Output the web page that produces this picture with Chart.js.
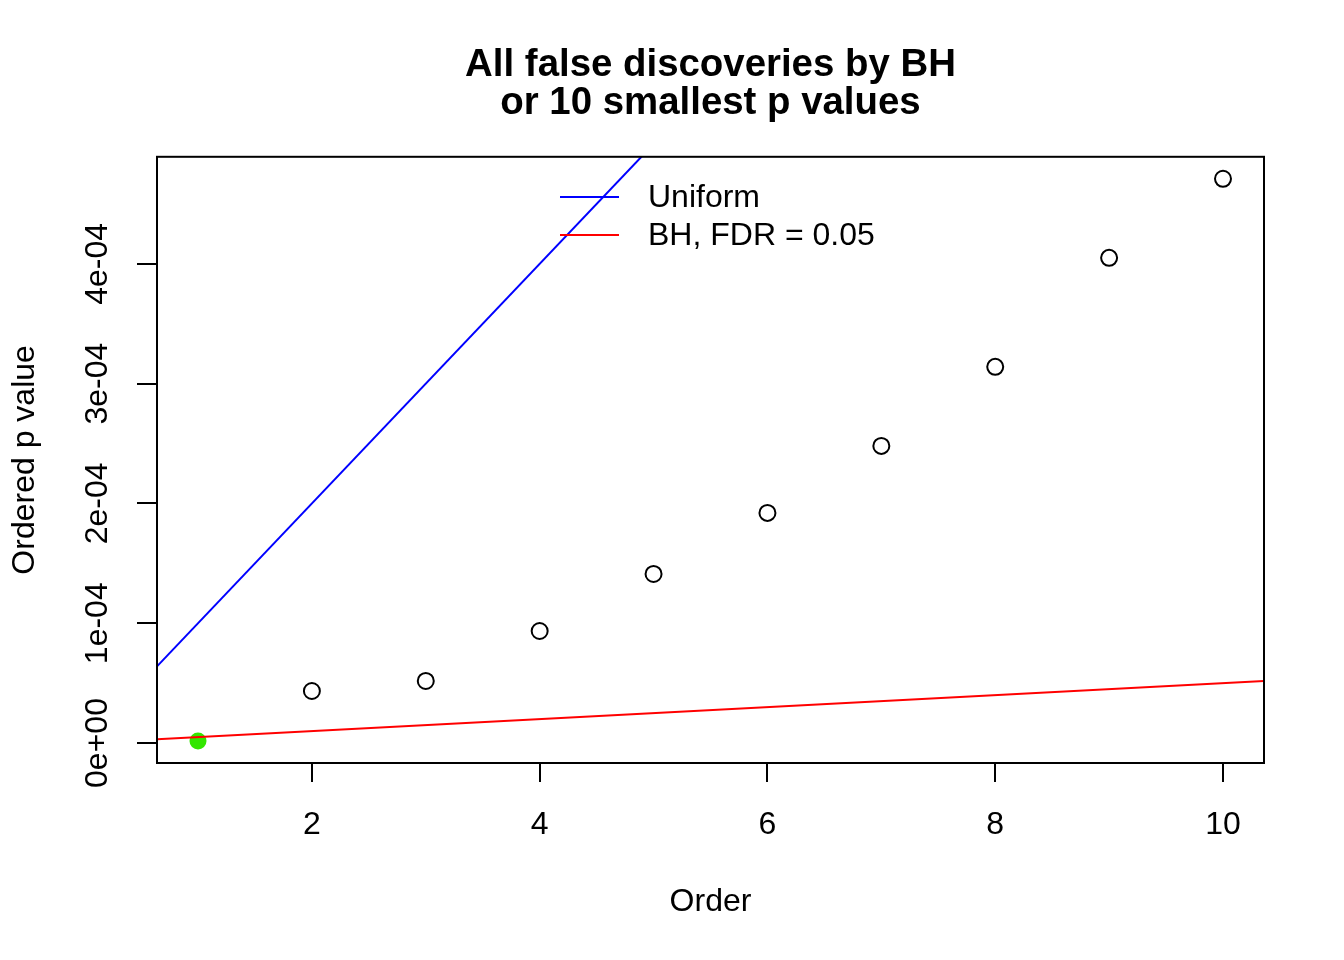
<!DOCTYPE html>
<html>
<head>
<meta charset="utf-8">
<script src="https://cdn.jsdelivr.net/npm/chart.js@4"></script>
<style>
  html, body { margin: 0; padding: 0; background: #fff; }
  canvas { display: block; }
</style>
</head>
<body>
<canvas id="chart" width="1344" height="960"></canvas>
<script>
// Ordered p values (10 smallest)
const orderVals = [1, 2, 3, 4, 5, 6, 7, 8, 9, 10];
const pValues = [1.7e-6, 4.34e-5, 5.18e-5, 9.35e-5, 1.411e-4, 1.921e-4, 2.48e-4, 3.14e-4, 4.05e-4, 4.71e-4];
const isDiscovery = [true, false, false, false, false, false, false, false, false, false];

// Reference lines: uniform i/m and BH i*q/m
const nTests = 10000;
const fdr = 0.05;

const xRange = [0.64, 10.36];
const yRange = [-1.67e-5, 4.8935e-4];
const xTicks = [2, 4, 6, 8, 10];
const yTicks = [0, 1e-4, 2e-4, 3e-4, 4e-4];
const yTickLabels = ['0e+00', '1e-04', '2e-04', '3e-04', '4e-04'];

Chart.defaults.font.family = '"Liberation Sans", Arial, sans-serif';
Chart.defaults.color = '#000';

const openPts = [];
const greenPts = [];
orderVals.forEach((x, i) => {
    if (isDiscovery[i]) greenPts.push({ x: x, y: pValues[i] });
    else openPts.push({ x: x, y: pValues[i] });
});

const uniformLine = xRange.map(x => ({ x: x, y: x / nTests }));
const bhLine = xRange.map(x => ({ x: x, y: x * fdr / nTests }));

// box round the plot area
const boxPlugin = {
    id: 'plotBox',
    afterDraw(chart) {
        const a = chart.chartArea;
        const ctx = chart.ctx;
        ctx.save();
        ctx.strokeStyle = '#000';
        ctx.lineWidth = 2;
        ctx.strokeRect(a.left, a.top, a.right - a.left, a.bottom - a.top);
        ctx.restore();
    }
};

// legend without box, inside the plot
const legendPlugin = {
    id: 'innerLegend',
    afterDraw(chart) {
        const ctx = chart.ctx;
        const items = chart.data.datasets.filter(d => d.inLegend);
        ctx.save();
        ctx.font = '32px "Liberation Sans", Arial, sans-serif';
        ctx.textBaseline = 'middle';
        ctx.textAlign = 'left';
        items.forEach((d, i) => {
            const y = 197 + i * 38;
            ctx.strokeStyle = d.borderColor;
            ctx.lineWidth = 2;
            ctx.beginPath();
            ctx.moveTo(560, y);
            ctx.lineTo(619, y);
            ctx.stroke();
            ctx.fillStyle = '#000';
            ctx.fillText(d.label, 648, y + 1);
        });
        ctx.restore();
    }
};

new Chart(document.getElementById('chart').getContext('2d'), {
    type: 'scatter',
    data: {
        datasets: [
            {
                type: 'line',
                label: 'Uniform',
                inLegend: true,
                data: uniformLine,
                borderColor: '#0000ff',
                borderWidth: 2,
                pointRadius: 0,
                fill: false,
                order: 1
            },
            {
                type: 'line',
                label: 'BH, FDR = 0.05',
                inLegend: true,
                data: bhLine,
                borderColor: '#ff0000',
                borderWidth: 2,
                pointRadius: 0,
                fill: false,
                order: 1
            },
            {
                label: 'p values',
                data: openPts,
                pointRadius: 8,
                pointBorderWidth: 2,
                pointBorderColor: '#000',
                pointBackgroundColor: 'rgba(0,0,0,0)',
                order: 2
            },
            {
                label: 'false discoveries',
                data: greenPts,
                pointRadius: 8.5,
                pointBorderWidth: 0,
                pointBackgroundColor: '#33e600',
                order: 2
            }
        ]
    },
    options: {
        responsive: false,
        animation: false,
        devicePixelRatio: 1,
        layout: { padding: { left: 0, right: 80, top: 0, bottom: 0 } },
        plugins: {
            legend: { display: false },
            tooltip: { enabled: false },
            title: {
                display: true,
                fullSize: false,
                text: ['All false discoveries by BH', 'or 10 smallest p values'],
                font: { size: 38.4, weight: 'bold', lineHeight: 1.0 },
                color: '#000',
                padding: { top: 46, bottom: 34 }
            }
        },
        scales: {
            x: {
                type: 'linear',
                min: xRange[0],
                max: xRange[1],
                afterBuildTicks: s => { s.ticks = xTicks.map(v => ({ value: v })); },
                afterFit: s => { s.height = 197; },
                border: { display: false },
                grid: { drawOnChartArea: false, drawTicks: true, tickLength: 19, color: '#000', lineWidth: 2 },
                ticks: { font: { size: 32 }, color: '#000', padding: 24, maxRotation: 0, minRotation: 0 },
                title: { display: true, text: 'Order', font: { size: 32 }, color: '#000', padding: { top: 39, bottom: 39 } }
            },
            y: {
                type: 'linear',
                min: yRange[0],
                max: yRange[1],
                afterBuildTicks: s => { s.ticks = yTicks.map(v => ({ value: v })); },
                afterFit: s => { s.width = 157; },
                border: { display: false },
                grid: { drawOnChartArea: false, drawTicks: true, tickLength: 20, color: '#000', lineWidth: 2 },
                ticks: {
                    font: { size: 32 },
                    color: '#000',
                    padding: -6,
                    minRotation: 90,
                    maxRotation: 90,
                    crossAlign: 'center',
                    callback: (v, i) => yTickLabels[i]
                },
                title: { display: true, text: 'Ordered p value', font: { size: 32 }, color: '#000', padding: { top: 6, bottom: 6 } }
            }
        }
    },
    plugins: [boxPlugin, legendPlugin]
});
</script>
</body>
</html>
